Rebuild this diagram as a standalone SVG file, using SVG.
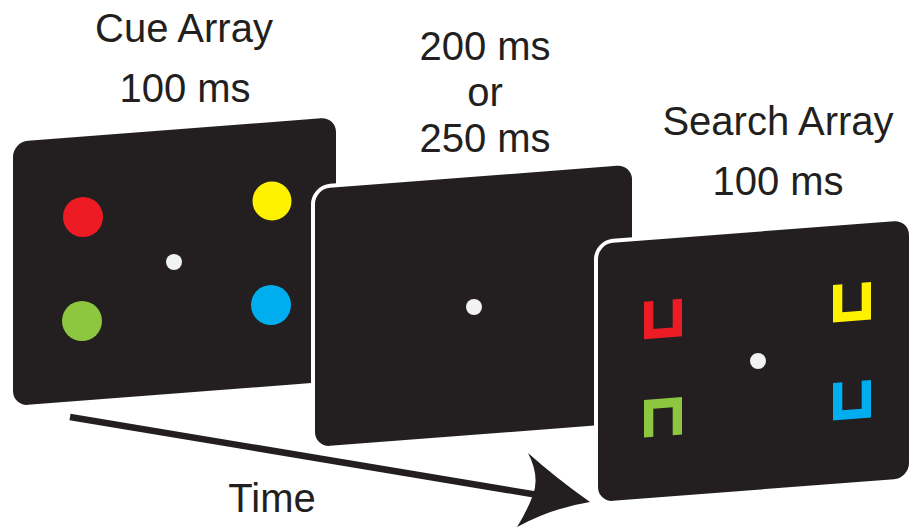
<svg xmlns="http://www.w3.org/2000/svg" width="909" height="529" viewBox="0 0 909 529">
  <style>
    .screen { fill: #231f20; stroke: #ffffff; stroke-width: 8; paint-order: stroke; }
    .label { font-family: "Liberation Sans", Arial, sans-serif; font-size: 40px; fill: #231f20; text-anchor: middle; }
    .fix { fill: #f1f2f2; }
    .red { fill: #ed1c24; }
    .yellow { fill: #fff200; }
    .green { fill: #8dc63f; }
    .blue { fill: #00aeef; }
  </style>
  <defs>
    <!-- bracket shapes, drawn in screen-local coordinates -->
    <path id="cupUp" d="M0,0 H9.3 V28 H28.7 V0 H38 V37.5 H0 Z"/>
    <path id="cupDown" d="M0,0 H38 V37.5 H28.7 V9.5 H9.3 V37.5 H0 Z"/>
  </defs>

  <rect width="909" height="529" fill="#ffffff"/>

  <!-- first screen: cue array -->
  <g id="cue-array">
    <rect class="screen" x="0" y="0" width="323" height="264" rx="15" transform="matrix(1,-0.077,0,1,13,142)"/>
    <circle class="red" cx="83" cy="217" r="20"/>
    <circle class="yellow" cx="272" cy="201" r="19.5"/>
    <circle class="green" cx="82" cy="321" r="20"/>
    <circle class="blue" cx="271" cy="305" r="20"/>
    <circle class="fix" cx="174" cy="262" r="8"/>
    <text class="label" x="184" y="42">Cue Array</text>
    <text class="label" x="185" y="102">100 ms</text>
  </g>

  <!-- second screen: blank interval -->
  <g id="interval">
    <rect class="screen" x="0" y="0" width="317" height="258" rx="15" transform="matrix(1,-0.077,0,1,315,189)"/>
    <circle class="fix" cx="474" cy="307" r="8"/>
    <text class="label" x="485" y="60">200 ms</text>
    <text class="label" x="485" y="106">or</text>
    <text class="label" x="485" y="152">250 ms</text>
  </g>

  <!-- third screen: search array -->
  <g id="search-array">
    <rect class="screen" x="0" y="0" width="311" height="258" rx="15" transform="matrix(1,-0.077,0,1,598,244)"/>
    <use href="#cupUp" class="red" transform="matrix(1,-0.077,0,1,644,301.7)"/>
    <use href="#cupUp" class="yellow" transform="matrix(1,-0.077,0,1,833,285)"/>
    <use href="#cupDown" class="green" transform="matrix(1,-0.077,0,1,644,400)"/>
    <use href="#cupUp" class="blue" transform="matrix(1,-0.077,0,1,833,383)"/>
    <circle class="fix" cx="758" cy="361" r="8"/>
    <text class="label" x="778" y="135">Search Array</text>
    <text class="label" x="778" y="195">100 ms</text>
  </g>

  <!-- time axis -->
  <g id="connectors">
    <line x1="70" y1="417" x2="538" y2="495" stroke="#231f20" stroke-width="6.5"/>
    <path d="M590,502 Q556,478 528,453 Q540,476 533,495 Q527,511 517,527 Q552,508 590,502 Z" fill="#231f20"/>
    <text class="label" x="272" y="512">Time</text>
  </g>
</svg>
